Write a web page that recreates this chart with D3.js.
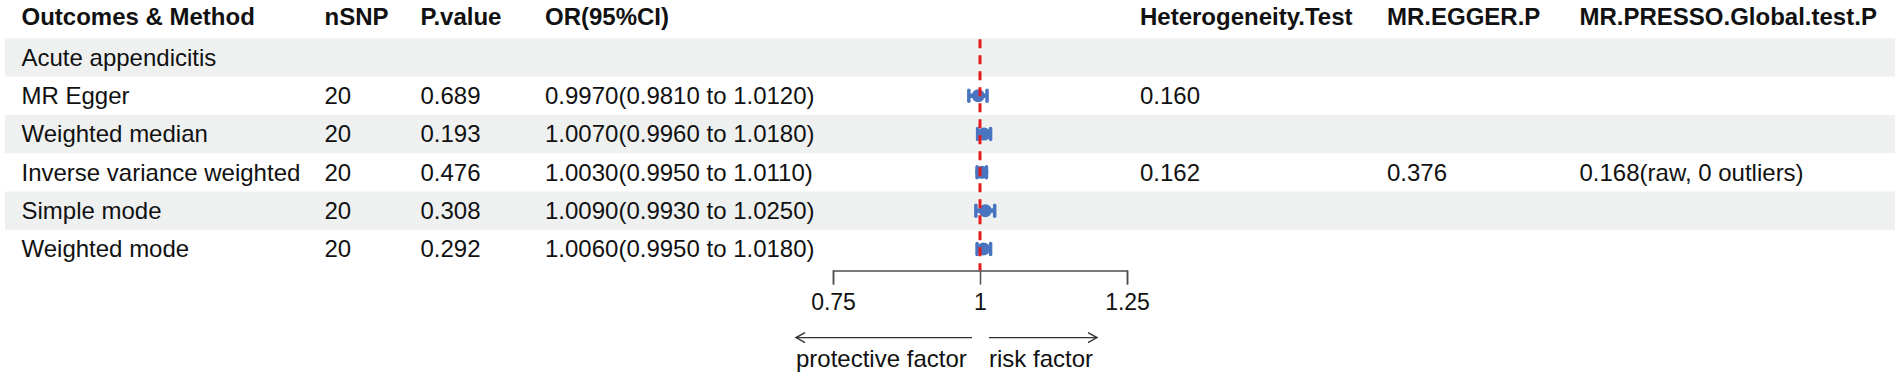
<!DOCTYPE html>
<html>
<head>
<meta charset="utf-8">
<script src="https://cdn.jsdelivr.net/npm/d3@7"></script>
<style>
  body { margin: 0; background: #fff; }
  text { font-family: "Liberation Sans", Arial, sans-serif; fill: #111; }
</style>
</head>
<body>
<div id="canvas"></div>
<script>
"use strict"

let svgWidth = 1902
let svgHeight = 379

/* data */
let outcome = "Acute appendicitis"
let methods = ["MR Egger", "Weighted median", "Inverse variance weighted", "Simple mode", "Weighted mode"]
let nSNP = [20, 20, 20, 20, 20]
let pValues = ["0.689", "0.193", "0.476", "0.308", "0.292"]
let orValues = [0.997, 1.007, 1.003, 1.009, 1.006]
let ciLow = [0.981, 0.996, 0.995, 0.993, 0.995]
let ciHigh = [1.012, 1.018, 1.011, 1.025, 1.018]
let hetP = ["0.160", "", "0.162", "", ""]
let eggerP = ["", "", "0.376", "", ""]
let pressoP = ["", "", "0.168(raw, 0 outliers)", "", ""]
let headers = ["Outcomes & Method", "nSNP", "P.value", "OR(95%CI)", "Heterogeneity.Test", "MR.EGGER.P", "MR.PRESSO.Global.test.P"]
let tickValues = [0.75, 1, 1.25]

/* layout */
let headerH = 38.3
let rowH = 38.3
let nRows = methods.length + 1
let colX = [21.5, 324.5, 420.5, 545, 1140, 1387, 1579.5]
let fontSize = 24
let blue = "#4874c0"

let svg = d3.select("#canvas")
    .append("svg")
    .attr("width", svgWidth)
    .attr("height", svgHeight)

function rowTop(i) { return headerH + i * rowH }
function rowMid(i) { return rowTop(i) + rowH / 2 }

// shaded bands on every other row
for (let i = 0; i < nRows; i += 2) {
    svg.append("rect")
        .attr("x", 5)
        .attr("y", rowTop(i))
        .attr("width", 1890)
        .attr("height", rowH)
        .attr("fill", "#eff1f1")
}

function cell(x, y, str, bold) {
    svg.append("text")
        .attr("x", x)
        .attr("y", y)
        .attr("font-size", fontSize)
        .attr("font-weight", bold ? "bold" : "normal")
        .text(str)
}

/* header */
headers.forEach(function (h, k) {
    cell(colX[k], 24.5, h, true)
})

/* rows */
let base = 8.4
cell(colX[0], rowMid(0) + base, outcome, false)

methods.forEach(function (m, i) {
    let y = rowMid(i + 1) + base
    let ciText = orValues[i].toFixed(4) + "(" + ciLow[i].toFixed(4) + " to " + ciHigh[i].toFixed(4) + ")"
    cell(colX[0], y, m, false)
    cell(colX[1], y, nSNP[i], false)
    cell(colX[2], y, pValues[i], false)
    cell(colX[3], y, ciText, false)
    if (hetP[i]) cell(colX[4], y, hetP[i], false)
    if (eggerP[i]) cell(colX[5], y, eggerP[i], false)
    if (pressoP[i]) cell(colX[6], y, pressoP[i], false)
})

/* forest scale */
let xScale = d3.scaleLinear()
    .domain([0.75, 1.25])
    .range([833, 1127])

let axisY = rowTop(nRows) + 2.5

let axis = d3.axisBottom(xScale)
    .tickValues(tickValues)
    .tickFormat(d3.format(""))
    .tickSize(14)
    .tickSizeOuter(14)

let gAxis = svg.append("g")
    .attr("transform", "translate(0," + axisY + ")")
    .call(axis)

gAxis.select(".domain").attr("stroke", "#4d4d4d").attr("stroke-width", 1.5)
gAxis.selectAll(".tick line").attr("stroke", "#4d4d4d").attr("stroke-width", 1.5)
gAxis.selectAll(".tick text")
    .attr("y", 39)
    .attr("dy", 0)
    .attr("font-size", 23)
    .attr("font-family", "Liberation Sans, Arial, sans-serif")
    .attr("fill", "#111")

/* points with confidence intervals */
let marks = svg.selectAll("g.mark")
    .data(methods.map(function (m, i) { return { i: i, or: orValues[i], lo: ciLow[i], hi: ciHigh[i] } }))
    .join("g")
    .attr("class", "mark")

marks.append("line")
    .attr("x1", d => xScale(d.lo))
    .attr("x2", d => xScale(d.hi))
    .attr("y1", d => rowMid(d.i + 1))
    .attr("y2", d => rowMid(d.i + 1))
    .attr("stroke", blue)
    .attr("stroke-width", 4.5)

marks.selectAll("line.cap")
    .data(d => [{ x: d.lo, i: d.i }, { x: d.hi, i: d.i }])
    .join("line")
    .attr("class", "cap")
    .attr("x1", d => xScale(d.x))
    .attr("x2", d => xScale(d.x))
    .attr("y1", d => rowMid(d.i + 1) - 5.5)
    .attr("y2", d => rowMid(d.i + 1) + 5.5)
    .attr("stroke", blue)
    .attr("stroke-width", 3.5)
    .attr("stroke-linecap", "round")

marks.append("circle")
    .attr("cx", d => xScale(d.or))
    .attr("cy", d => rowMid(d.i + 1))
    .attr("r", 6.5)
    .attr("fill", blue)

/* reference line at 1 */
svg.append("line")
    .attr("x1", xScale(1))
    .attr("x2", xScale(1))
    .attr("y1", rowTop(0) + 1)
    .attr("y2", axisY)
    .attr("stroke", "#e41a1c")
    .attr("stroke-width", 3)
    .attr("stroke-dasharray", "9,7")

/* direction arrows */
let arrowY = axisY + 67
let x1 = xScale(1)
let arrowColor = "#333"

function arrow(xa, xb, headAtA) {
    svg.append("line")
        .attr("x1", xa).attr("x2", xb)
        .attr("y1", arrowY).attr("y2", arrowY)
        .attr("stroke", arrowColor)
        .attr("stroke-width", 1.4)
    let hx = headAtA ? xa : xb
    let dir = headAtA ? 1 : -1
    svg.append("path")
        .attr("d", "M" + (hx + dir * 9) + "," + (arrowY - 5) + "L" + hx + "," + arrowY + "L" + (hx + dir * 9) + "," + (arrowY + 5))
        .attr("fill", "none")
        .attr("stroke", arrowColor)
        .attr("stroke-width", 1.4)
}

arrow(x1 - 184, x1 - 8, true)
arrow(x1 + 9, x1 + 117, false)

svg.append("text")
    .attr("x", x1 - 184)
    .attr("y", arrowY + 29)
    .attr("font-size", 24)
    .text("protective factor")

svg.append("text")
    .attr("x", x1 + 9)
    .attr("y", arrowY + 29)
    .attr("font-size", 24)
    .text("risk factor")
</script>
</body>
</html>
